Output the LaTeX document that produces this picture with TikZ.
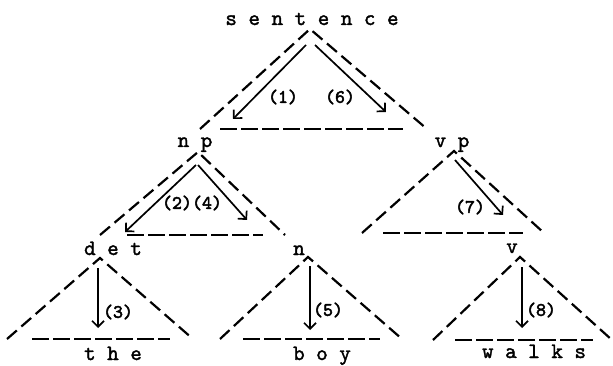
\documentclass[tikz,border=0pt]{standalone}
\usepackage{fontspec}
\usepackage{tikz}
\usetikzlibrary{arrows.meta}
\newfontfamily\typew{lmmono10-regular}[Extension=.otf, FakeBold=1.6]
\newfontfamily\typenum{lmmono10-regular}[Extension=.otf, FakeBold=2.6]
\tikzset{
  tside/.style={draw=black, line width=2.2pt, dash pattern=on 13pt off 6pt},
  tbase/.style={draw=black, line width=2.2pt, dash pattern=on 17pt off 4pt},
  walk/.style={draw=black, line width=1.7pt, -{Straight Barb[length=6pt,width=12pt,line width=1.7pt]}},
  cat/.style={inner sep=0pt, anchor=base, font=\typew\fontsize{22}{24}\selectfont},
  num/.style={inner sep=0pt, font=\typenum\fontsize{19}{21}\selectfont},
}
\begin{document}
\begin{tikzpicture}[x=1pt, y=-1pt]
  \useasboundingbox (0,0) rectangle (613,366);

  \node[cat] (sentence) at (312,25) {s e n t e n c e};
  \node[cat] (np) at (195,147) {n p};
  \node[cat] (vp) at (452,147) {v p};
  \node[cat] (det) at (113,255) {d e t};
  \node[cat] (n) at (299,255) {n};
  \node[cat] (v) at (512,253) {v};
  \node[cat] (the) at (113,360) {t h e};
  \node[cat] (boy) at (322,360) {b o y};
  \node[cat] (walks) at (534,358) {w a l k s};

  % subtrees: apex, left/right corner, base line
  \foreach \ax/\ay/\lx/\rx/\by/\bl/\br in {
      310/29/200/427/129/220/403,
      198/152/100/285/235/127/263,
      454/151/362/544/233/383/523,
      100/258/7/193/339/32/170,
      308/257/220/402/339/243/380,
      520/257/433/612/340/455/593} {
    \draw[tside] (\lx,\by) -- (\ax,\ay) -- (\rx,\by);
    \draw[tbase] (\bl,\by) -- (\br,\by);
  }

  \foreach \k/\sx/\sy/\tx/\ty/\lx/\ly in {
      1/306/45/233/119/283/97,
      6/315/45/386/112/340/97,
      2/196/165/125/232/177/203,
      4/198/165/247/220/207/203,
      7/455/160/503/215/470/207,
      3/98/268/98/328/118/312,
      5/310/266/310/330/328/310,
      8/522/267/522/328/541/310} {
    \coordinate (from\k) at (\sx,\sy);
    \coordinate (to\k) at (\tx,\ty);
    \draw[walk] (from\k) -- (to\k);
    \node[num] (lab\k) at (\lx,\ly) {(\k)};
  }
\end{tikzpicture}
\end{document}
